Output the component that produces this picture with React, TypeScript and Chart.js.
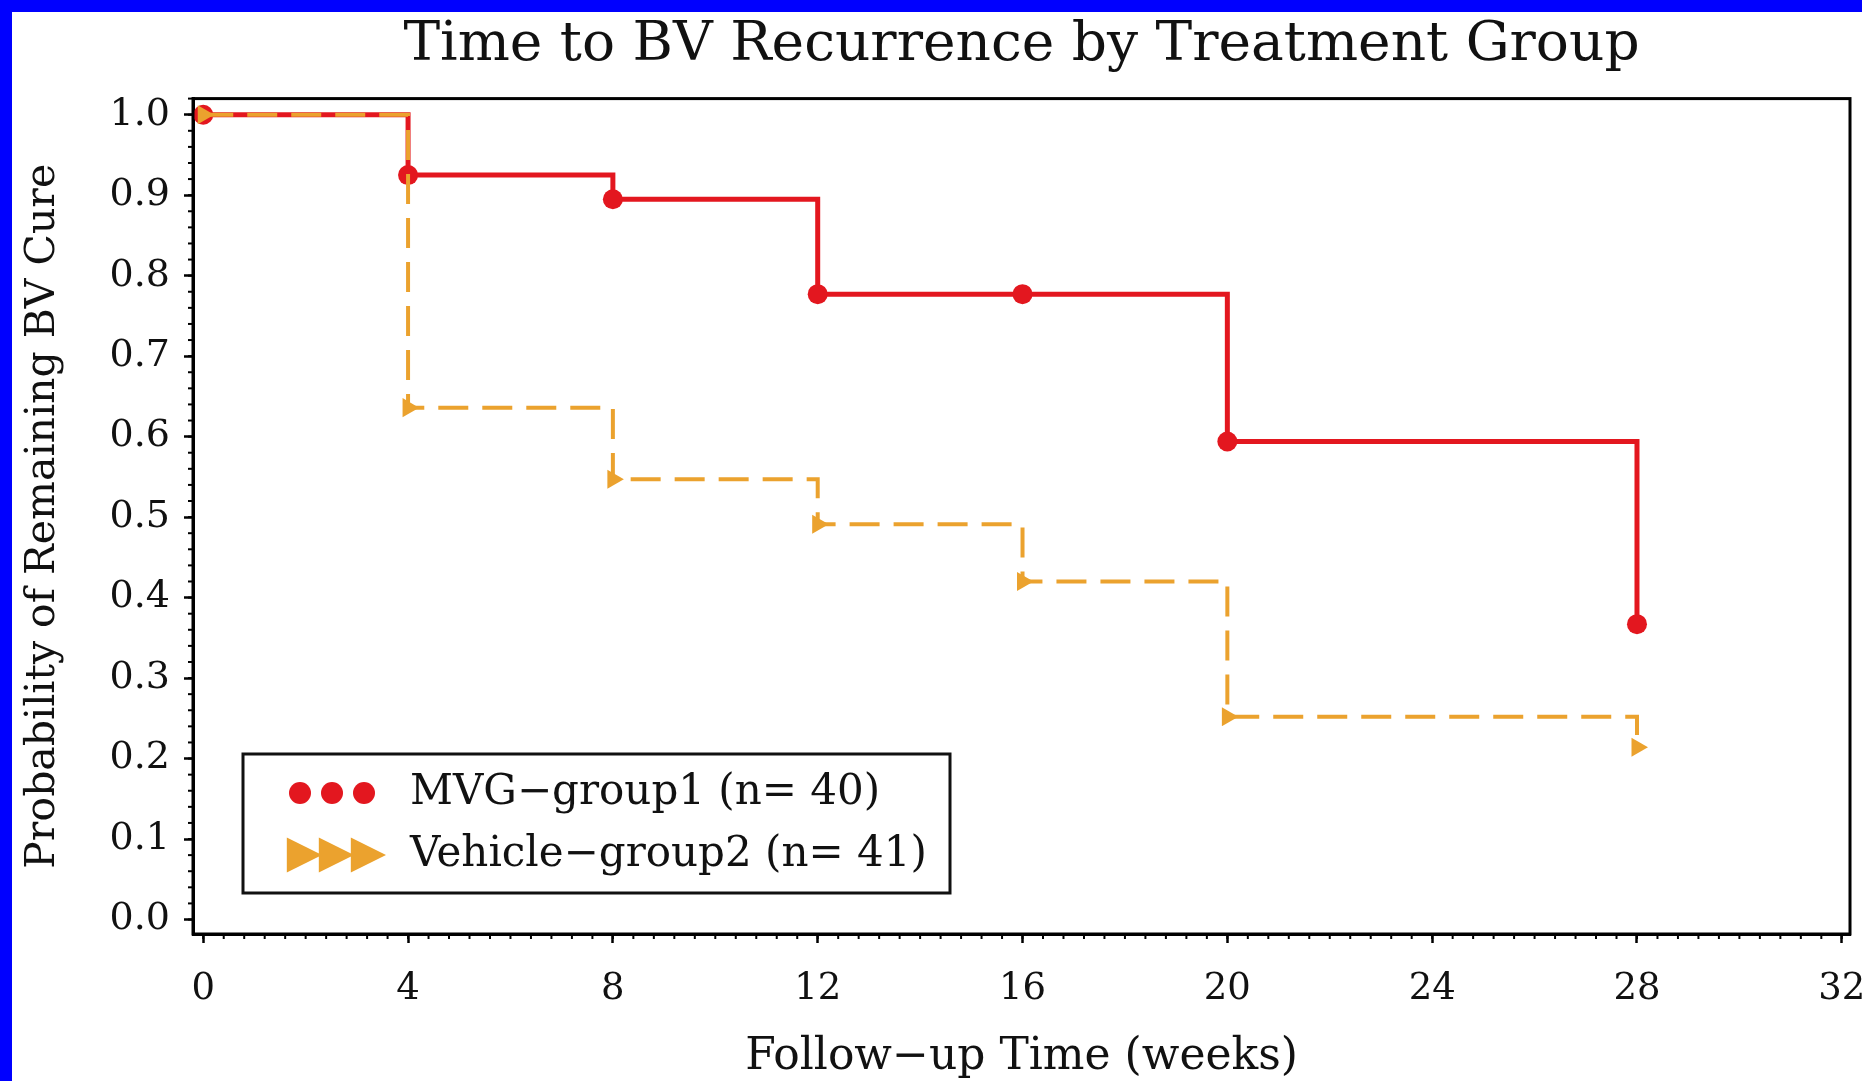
import React, { useEffect, useRef } from 'react';
import { Chart, registerables } from 'chart.js';

Chart.register(...registerables);

const TITLE = 'Time to BV Recurrence by Treatment Group';
const X_TITLE = 'Follow\u2212up Time (weeks)';
const Y_TITLE = 'Probability of Remaining BV Cure';
const SERIES_LABELS = ['MVG\u2212group1 (n= 40)', 'Vehicle\u2212group2 (n= 41)'];

const MVG_WEEKS = [0, 4, 8, 12, 16, 20, 28];
const MVG_SURVIVAL = [1.0, 0.925, 0.895, 0.777, 0.777, 0.594, 0.367];
const VEHICLE_WEEKS = [0, 4, 8, 12, 16, 20, 28];
const VEHICLE_SURVIVAL = [1.0, 0.636, 0.547, 0.491, 0.42, 0.252, 0.214];

const X_TICKS = [0, 4, 8, 12, 16, 20, 24, 28, 32];
const Y_TICKS = [0.0, 0.1, 0.2, 0.3, 0.4, 0.5, 0.6, 0.7, 0.8, 0.9, 1.0];
const X_MINOR_STEP = 0.4;
const Y_MINOR_STEP = 0.02;

const RED = '#E3171F';
const ORANGE = '#EBA22E';
const FONT = "'DejaVu Serif', serif";

function drawTriangleRight(ctx: CanvasRenderingContext2D, x: number, y: number, r: number) {
  ctx.beginPath();
  ctx.moveTo(x + r, y);
  ctx.lineTo(x - r * 0.6, y - r * 0.8);
  ctx.lineTo(x - r * 0.6, y + r * 0.8);
  ctx.closePath();
  ctx.fill();
}

const framePlugin = {
  id: 'frameAndLegend',
  afterDatasetsDraw(chart: any) {
    const { ctx, chartArea: a, scales } = chart;
    const xs = scales.x;
    const ys = scales.y;
    ctx.save();
    ctx.strokeStyle = '#000';
    ctx.lineWidth = 2;
    for (let i = Math.ceil(xs.min / X_MINOR_STEP); i * X_MINOR_STEP <= xs.max + 1e-9; i++) {
      const px = xs.getPixelForValue(i * X_MINOR_STEP);
      ctx.beginPath();
      ctx.moveTo(px, a.bottom);
      ctx.lineTo(px, a.bottom + 5);
      ctx.stroke();
    }
    for (let i = Math.ceil(ys.min / Y_MINOR_STEP); i * Y_MINOR_STEP <= ys.max + 1e-9; i++) {
      const py = ys.getPixelForValue(i * Y_MINOR_STEP);
      ctx.beginPath();
      ctx.moveTo(a.left, py);
      ctx.lineTo(a.left - 5, py);
      ctx.stroke();
    }
    ctx.lineWidth = 3;
    ctx.strokeRect(a.left, a.top, a.right - a.left, a.bottom - a.top);

    // legend box inside the plot area
    const bx = a.left + 50;
    const bw = 707;
    const bh = 139;
    const by = a.bottom - 41 - bh;
    ctx.fillStyle = '#fff';
    ctx.fillRect(bx, by, bw, bh);
    ctx.lineWidth = 3;
    ctx.strokeStyle = '#111';
    ctx.strokeRect(bx, by, bw, bh);
    const row1 = by + 39;
    const row2 = by + 101;
    const symX = [bx + 57, bx + 89, bx + 121];
    ctx.fillStyle = RED;
    symX.forEach((sx) => {
      ctx.beginPath();
      ctx.arc(sx, row1, 11, 0, Math.PI * 2);
      ctx.fill();
    });
    ctx.fillStyle = ORANGE;
    symX.forEach((sx) => drawTriangleRight(ctx, sx, row2, 22));
    ctx.fillStyle = '#111';
    ctx.font = `42px ${FONT}`;
    ctx.textBaseline = 'middle';
    ctx.textAlign = 'left';
    ctx.fillText(SERIES_LABELS[0], bx + 167, row1);
    ctx.fillText(SERIES_LABELS[1], bx + 167, row2);
    ctx.restore();
  },
};

export default function App() {
  const canvasRef = useRef<HTMLCanvasElement | null>(null);

  useEffect(() => {
    if (!canvasRef.current) return;
    const chart = new Chart(canvasRef.current, {
      type: 'line',
      data: {
        datasets: [
          {
            label: SERIES_LABELS[0],
            data: MVG_WEEKS.map((w, i) => ({ x: w, y: MVG_SURVIVAL[i] })),
            borderColor: RED,
            backgroundColor: RED,
            borderWidth: 5,
            stepped: true,
            pointStyle: 'circle',
            pointRadius: 10,
            pointBorderWidth: 0,
            pointBackgroundColor: RED,
            order: 2,
          },
          {
            label: SERIES_LABELS[1],
            data: VEHICLE_WEEKS.map((w, i) => ({ x: w, y: VEHICLE_SURVIVAL[i] })),
            borderColor: ORANGE,
            backgroundColor: ORANGE,
            borderWidth: 4,
            borderDash: [30, 14],
            stepped: true,
            pointStyle: 'triangle',
            rotation: 90,
            pointRadius: 11,
            pointBorderWidth: 0,
            pointBackgroundColor: ORANGE,
            order: 1,
          },
        ],
      },
      options: {
        animation: false,
        responsive: false,
        devicePixelRatio: 1,
        layout: { padding: { left: 0, right: 42, top: 0, bottom: 0 } },
        plugins: {
          legend: { display: false },
          tooltip: { enabled: false },
          title: {
            display: true,
            text: TITLE,
            fullSize: false,
            color: '#111',
            font: { family: FONT, size: 55, weight: 'normal', lineHeight: 1 },
            padding: { top: 6, bottom: 25.6 },
          },
        },
        scales: {
          x: {
            type: 'linear',
            min: -0.2,
            max: 32.16,
            afterBuildTicks: (scale: any) => {
              scale.ticks = X_TICKS.map((v) => ({ value: v }));
            },
            afterFit: (scale: any) => {
              scale.height = 147;
            },
            ticks: {
              color: '#111',
              font: { family: FONT, size: 37 },
              padding: 24,
              autoSkip: false,
              maxRotation: 0,
              callback: (v: any) => String(v),
            },
            grid: {
              drawOnChartArea: false,
              drawTicks: true,
              tickLength: 9,
              tickColor: '#000',
              tickWidth: 2.5,
            },
            border: { display: true, color: '#000', width: 3 },
            title: {
              display: true,
              text: X_TITLE,
              color: '#111',
              font: { family: FONT, size: 44, lineHeight: 1.2 },
              padding: { top: 0, bottom: -3 },
            },
          },
          y: {
            type: 'linear',
            min: -0.018,
            max: 1.02,
            afterBuildTicks: (scale: any) => {
              scale.ticks = Y_TICKS.map((v) => ({ value: v }));
            },
            afterFit: (scale: any) => {
              scale.width = 181;
            },
            ticks: {
              color: '#111',
              font: { family: FONT, size: 38 },
              padding: 14,
              autoSkip: false,
              callback: (v: any) => Number(v).toFixed(1),
            },
            grid: {
              drawOnChartArea: false,
              drawTicks: true,
              tickLength: 9,
              tickColor: '#000',
              tickWidth: 2.5,
            },
            border: { display: true, color: '#000', width: 3 },
            title: {
              display: true,
              text: Y_TITLE,
              color: '#111',
              font: { family: FONT, size: 41, lineHeight: 1.2 },
              padding: { top: 7, bottom: 0 },
            },
          },
        },
      },
      plugins: [framePlugin],
    } as any);
    return () => chart.destroy();
  }, []);

  return (
    <div style={{ position: 'absolute', left: 0, top: 0, width: 1862, height: 1081, background: '#0000FF' }}>
      <div
        style={{
          position: 'absolute',
          left: 12,
          top: 12,
          width: 1850,
          height: 1069,
          background: '#ffffff',
          overflow: 'hidden',
        }}
      >
        <canvas ref={canvasRef} width={1880} height={1069} style={{ display: 'block' }} />
      </div>
    </div>
  );
}
